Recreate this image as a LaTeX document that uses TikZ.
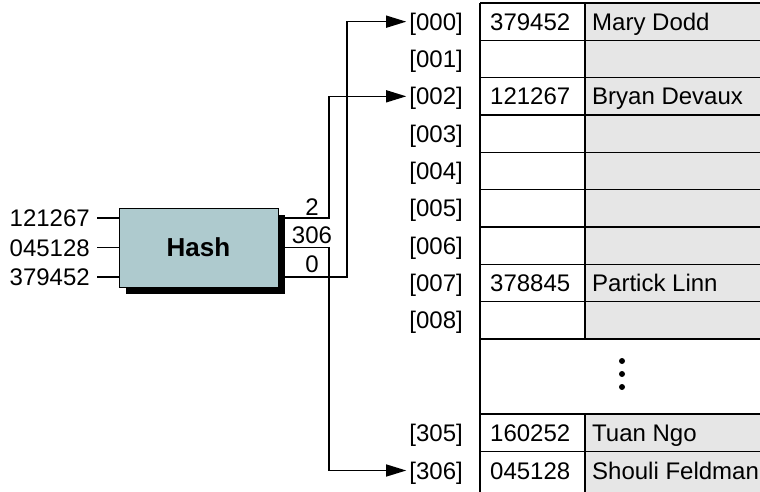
\documentclass[tikz,border=0pt]{standalone}
\usepackage{fontspec}
\setmainfont{Liberation Sans}
\usetikzlibrary{arrows.meta,shadows}
\definecolor{hashfill}{RGB}{174,202,206}
\definecolor{cellgray}{RGB}{230,230,230}
\begin{document}
\begin{tikzpicture}[x=1pt,y=-1pt,
  font=\fontsize{24}{28}\selectfont,
  wire/.style={line width=1.3pt},
  arr/.style={wire,-{Triangle[length=20pt,width=12pt]}},
  grid/.style={line width=1.3pt},
  idx/.style={anchor=base east, inner xsep=3pt, inner ysep=0pt},
  cell/.style={anchor=base west, inner sep=0pt},
  inlabel/.style={anchor=base east, inner xsep=7pt, inner ysep=0pt},
  outlabel/.style={anchor=south, inner sep=0pt},
  hashbox/.style={draw, line width=0.8pt, fill=hashfill, minimum width=159pt, minimum height=79pt,
    drop shadow={shadow xshift=7pt, shadow yshift=-7pt, fill=black, opacity=1},
    font=\fontsize{26}{30}\selectfont\bfseries},
  dot/.style={fill=black}
]
\clip (0,0) rectangle (760,492);
\fill[white] (0,0) rectangle (760,492);

% table background
\fill[cellgray] (585,3) rectangle (770,339);
\fill[cellgray] (585,414) rectangle (770,500);

% grid
\draw[grid] (480,3) -- (480,500);
\draw[grid] (585,3) -- (585,339);
\draw[grid] (585,414) -- (585,500);
\foreach \i in {0,...,9} \draw[grid] (480,{3+37.33*\i}) -- (770,{3+37.33*\i});
\draw[grid] (480,414) -- (770,414);
\draw[grid] (480,451.7) -- (770,451.7);

% index labels (baseline = row centre + 8.5)
\foreach \n/\i in {000/0,001/1,002/2,003/3,004/4,005/5,006/6,007/7,008/8}
  \node[idx] (i\n) at (466,{3+37.33*(\i+0.5)+8.5}) {[\n]};
\node[idx] (i305) at (466,441.5) {[305]};
\node[idx] (i306) at (466,479) {[306]};

% cell contents
\node[cell] (k000) at (490,30.2) {379452};
\node[cell] (n000) at (592,30.2) {Mary Dodd};
\node[cell] (k002) at (490,104.8) {121267};
\node[cell] (n002) at (592,104.8) {Bryan Devaux};
\node[cell] (k007) at (490,291.5) {378845};
\node[cell] (n007) at (592,291.5) {Partick Linn};
\node[cell] (k305) at (490,441.5) {160252};
\node[cell] (n305) at (592,441.5) {Tuan Ngo};
\node[cell] (k306) at (490,479) {045128};
\node[cell] (n306) at (592,479) {Shouli Feldman};

% ellipsis
\fill[dot] (622,361) circle (3pt);
\fill[dot] (622,374) circle (3pt);
\fill[dot] (622,387) circle (3pt);

% hash box
\node[hashbox] (hash) at (198.5,247.5) {Hash};

% inputs
\node[inlabel] (in1) at (97,226.5) {121267};
\node[inlabel] (in2) at (97,256) {045128};
\node[inlabel] (in3) at (97,285.5) {379452};
\draw[wire] (in1.east |- 0,218) -- (hash.west |- 0,218);
\draw[wire] (in2.east |- 0,247.5) -- (hash.west |- 0,247.5);
\draw[wire] (in3.east |- 0,277) -- (hash.west |- 0,277);

% outputs
\coordinate (c2) at (329,218);
\coordinate (c306) at (329,247.5);
\coordinate (c0) at (347,277);
\draw[arr] (hash.east |- c2) -- (c2) |- ([yshift=8.5pt]i002.base west);
\draw[arr] (hash.east |- c306) -- (c306) |- ([yshift=8.5pt]i306.base west);
\draw[arr] (hash.east |- c0) -- (c0) |- ([yshift=8.5pt]i000.base west);

\node[outlabel] (o2) at (312,215.5) {2};
\node[outlabel] (o306) at (312,243.5) {306};
\node[outlabel] (o0) at (312,272.5) {0};
\end{tikzpicture}
\end{document}
